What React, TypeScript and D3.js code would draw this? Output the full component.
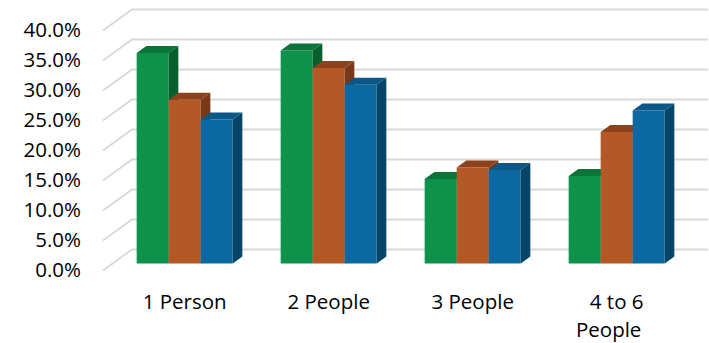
import React from "react";
import * as d3 from "d3";

// Household size categories and the three series shares (%)
const categories = ["1 Person", "2 People", "3 People", "4 to 6 People"];
const categoryLines = [["1 Person"], ["2 People"], ["3 People"], ["4 to 6", "People"]];
const seriesNames = ["Series A", "Series B", "Series C"];
const seriesA = [35.1, 35.5, 14.1, 14.6];
const seriesB = [27.3, 32.6, 16.0, 21.9];
const seriesC = [24.0, 29.8, 15.6, 25.5];
const seriesValues = [seriesA, seriesB, seriesC];
const yTicks = [0, 5, 10, 15, 20, 25, 30, 35, 40];

// Face colours for each series: front, top, side
const faceColors = [
  { front: "#0d914b", top: "#0a7439", side: "#075f2e" },
  { front: "#b55828", top: "#8e421c", side: "#793818" },
  { front: "#0b69a0", top: "#0a5788", side: "#064468" },
];

const W = 709;
const H = 343;
// Oblique depth projection of the 3D box
const DX = 29;
const DY = 21;
const Z0 = 1 / 3;
const Z1 = 2 / 3;

export default function App() {
  const y = d3.scaleLinear().domain([0, 40]).range([270.5, 30.5]);
  const x = d3
    .scaleBand<string>()
    .domain(categories)
    .range([103, 679])
    .paddingInner(1 / 3)
    .paddingOuter(1 / 6);
  const xs = d3.scaleBand<string>().domain(seriesNames).range([0, x.bandwidth()]);

  const proj = (px: number, v: number, z: number): [number, number] => [px + z * DX, y(v) - z * DY];
  const poly = (pts: [number, number][]) => {
    const p = d3.path();
    pts.forEach(([a, b], i) => (i === 0 ? p.moveTo(a, b) : p.lineTo(a, b)));
    p.closePath();
    return p.toString();
  };
  const line = d3.line();

  const [x0, x1] = x.range();
  const font = "'Open Sans', sans-serif";
  const fs = 20.5;

  return (
    <svg width={W} height={H} style={{ position: "absolute", left: 0, top: 0 }} fontFamily={font}>
      <rect width={W} height={H} fill="#ffffff" />
      {/* side wall and back wall gridlines */}
      {yTicks.map((t) => (
        <path
          key={"g" + t}
          d={line([proj(x0, t, 0), proj(x0, t, 1), proj(x1, t, 1)]) || ""}
          fill="none"
          stroke="#d9d9d9"
          strokeWidth={1.8}
        />
      ))}
      {/* value axis labels */}
      {yTicks.map((t) => (
        <text
          key={"t" + t}
          x={81}
          y={y(t)}
          dy="0.33em"
          textAnchor="end"
          fontSize={fs}
          fill="#000000"
        >
          {t.toFixed(1) + "%"}
        </text>
      ))}
      {/* 3D columns, drawn left to right so each covers the previous side face */}
      {categories.map((c, ci) =>
        seriesNames.map((s, si) => {
          const v = seriesValues[si][ci];
          const bx0 = (x(c) as number) + (xs(s) as number);
          const bx1 = bx0 + xs.bandwidth();
          const col = faceColors[si];
          return (
            <g key={c + s}>
              <path
                d={poly([proj(bx0, 0, Z0), proj(bx1, 0, Z0), proj(bx1, v, Z0), proj(bx0, v, Z0)])}
                fill={col.front}
              />
              <path
                d={poly([proj(bx0, v, Z0), proj(bx1, v, Z0), proj(bx1, v, Z1), proj(bx0, v, Z1)])}
                fill={col.top}
              />
              <path
                d={poly([proj(bx1, 0, Z0), proj(bx1, v, Z0), proj(bx1, v, Z1), proj(bx1, 0, Z1)])}
                fill={col.side}
              />
            </g>
          );
        })
      )}
      {/* category labels */}
      {categories.map((c, ci) => {
        const cx = (x(c) as number) + x.bandwidth() / 2 + Z0 * DX;
        return (
          <text key={"c" + c} textAnchor="middle" fontSize={fs} fill="#000000">
            {categoryLines[ci].map((ln, li) => (
              <tspan key={ln} x={cx + (li > 0 ? -8 : 0)} y={309 + li * 28}>
                {ln}
              </tspan>
            ))}
          </text>
        );
      })}
    </svg>
  );
}
